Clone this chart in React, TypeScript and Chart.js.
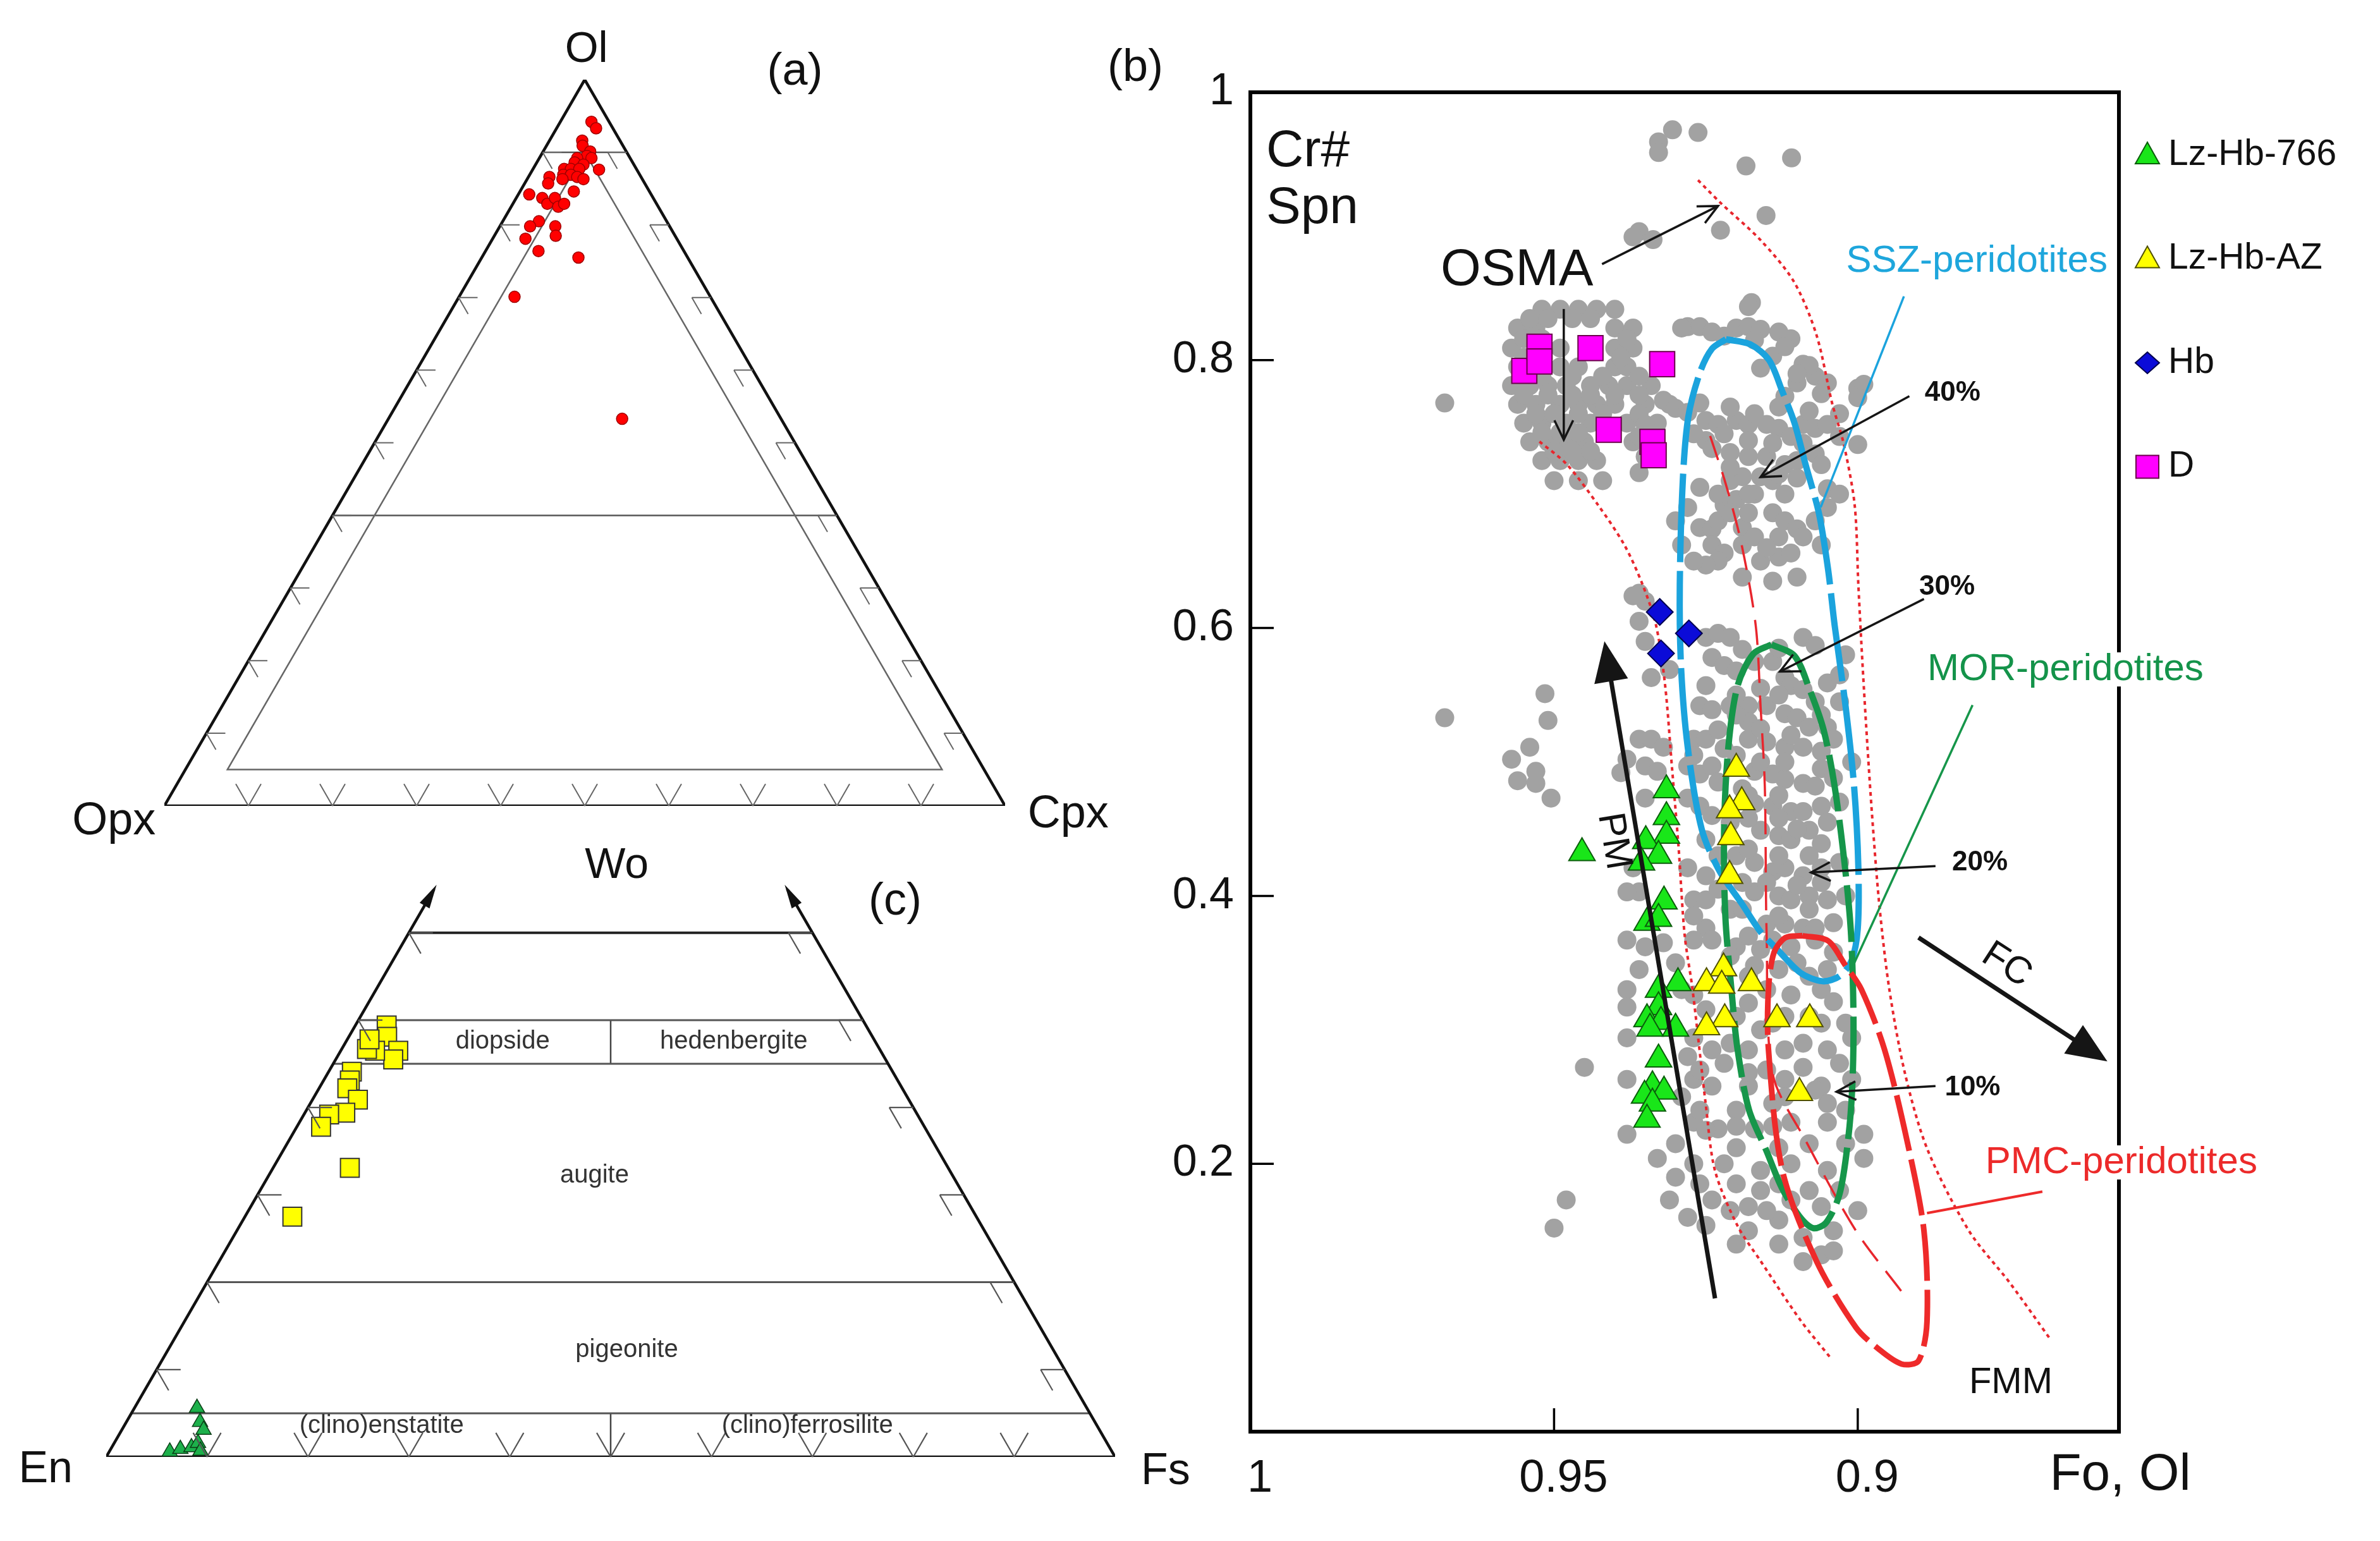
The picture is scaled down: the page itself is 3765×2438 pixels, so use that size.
import React, { useEffect, useRef } from 'react';
import { Chart, registerables } from 'chart.js';

Chart.register(...registerables);

const FONT = '"Liberation Sans", Arial, Helvetica, sans-serif';
const H = Math.sqrt(3) / 2;

// ================= Panel (a): Ol – Opx – Cpx (vol %) =================
const A_OUTLINE = [[100, 0, 0], [0, 100, 0], [0, 0, 100], [100, 0, 0]];
const A_INNER = [[90, 5, 5], [5, 90, 5], [5, 5, 90], [90, 5, 5]];
const A_OL90 = [[90, 10, 0], [90, 0, 10]];
const A_OL40 = [[40, 60, 0], [40, 0, 60]];
const A_TICKS = [10, 20, 30, 40, 50, 60, 70, 80, 90];
// [Ol, Opx, Cpx]
const A_SAMPLES = [
  [94.2, 2.1, 3.7], [93.3, 2.0, 4.7], [91.6, 4.5, 3.9], [90.9, 4.8, 4.3], [90.1, 4.3, 5.6],
  [89.5, 5.0, 5.5], [89.2, 6.3, 4.5], [89.2, 4.6, 6.2], [88.6, 6.9, 4.5], [88.3, 6.0, 5.7],
  [87.7, 8.6, 3.7], [87.7, 7.8, 4.5], [87.7, 6.8, 5.5], [86.9, 9.1, 4.0], [86.9, 8.2, 4.9],
  [86.6, 7.6, 5.8], [86.3, 7.0, 6.7], [87.6, 4.5, 7.9], [86.3, 9.5, 4.2], [86.6, 10.9, 2.5],
  [85.7, 11.5, 2.8], [84.6, 9.0, 6.4], [84.2, 14.5, 1.3], [83.7, 13.2, 3.1], [82.9, 13.0, 4.1],
  [83.7, 11.7, 4.6], [82.5, 11.9, 5.6], [82.9, 11.0, 6.1], [80.5, 15.2, 4.3], [79.8, 16.6, 3.6],
  [79.8, 13.6, 6.6], [78.5, 14.2, 7.3], [78.1, 18.0, 3.9], [76.4, 17.3, 6.3], [75.5, 13.0, 11.5],
  [70.1, 23.3, 6.6], [53.3, 18.9, 27.8],
];
const A_LABELS = [
  { text: 'Ol', at: [0.502, 0.901], size: 68 },
  { text: '(a)', at: [0.75, 0.875], size: 72 },
  { text: 'Opx', at: [-0.06, -0.019], size: 72 },
  { text: 'Cpx', at: [1.075, -0.011], size: 72 },
];

// ================= Panel (c): En – Fs – Wo (mol %) =================
const C_SIDES = [
  [[100, 0, 0], [35, 0, 65]],
  [[0, 100, 0], [0, 35, 65]],
  [[100, 0, 0], [0, 100, 0]],
];
const C_WO_BORDER = 60;
const C_WO_LINES = [50, 45, 20, 5];
const C_DIVIDERS = [
  [[27.5, 27.5, 45], [25, 25, 50]],
  [[47.5, 47.5, 5], [50, 50, 0]],
];
const C_SIDE_TICKS = [10, 20, 30, 40, 50, 60];
const C_BASE_TICKS = [10, 20, 30, 40, 50, 60, 70, 80, 90];
// [En, Fs, Wo]
const C_CPX = [
  [47.5, 3.1, 49.4], [48.1, 3.8, 48.1], [47.8, 5.7, 46.5], [48.8, 5.7, 45.5], [50.1, 3.4, 46.5],
  [50.8, 2.5, 46.7], [50.0, 2.2, 47.8], [53.6, 2.3, 44.1], [54.3, 2.6, 43.1], [55.0, 2.8, 42.2],
  [54.6, 4.5, 40.9], [56.6, 4.0, 39.4], [58.3, 2.5, 39.2], [59.8, 2.4, 37.8], [59.3, 7.6, 33.1],
  [67.8, 4.7, 27.5],
];
const C_OPX = [
  [88.2, 6.2, 5.6], [88.7, 7.3, 4.0], [88.8, 8.1, 3.1], [93.4, 6.0, 0.6], [92.2, 6.9, 0.9],
  [91.0, 7.9, 1.1], [90.1, 8.3, 1.6], [90.3, 9.0, 0.7],
];
const C_LABELS = [
  { text: 'Wo', at: [0.506, 0.586], size: 68, color: '#111' },
  { text: '(c)', at: [0.782, 0.55], size: 72, color: '#111' },
  { text: 'En', at: [-0.06, -0.013], size: 70, color: '#111' },
  { text: 'Fs', at: [1.05, -0.015], size: 70, color: '#111' },
  { text: 'diopside', at: [0.393, 0.412], size: 40, color: '#333' },
  { text: 'hedenbergite', at: [0.622, 0.412], size: 40, color: '#333' },
  { text: 'augite', at: [0.484, 0.279], size: 40, color: '#333' },
  { text: 'pigeonite', at: [0.516, 0.106], size: 40, color: '#333' },
  { text: '(clino)enstatite', at: [0.273, 0.031], size: 40, color: '#333' },
  { text: '(clino)ferrosilite', at: [0.695, 0.031], size: 40, color: '#333' },
];

// ================= Panel (b): Cr# spinel vs Fo olivine =================
const B_X_TICKS = [0.9, 0.95, 1];
const B_Y_TICKS = [0.2, 0.4, 0.6, 0.8, 1];

const LZ_HB_766 = [
  [0.9315, 0.479], [0.9315, 0.459], [0.9315, 0.445], [0.9349, 0.441], [0.9328, 0.43], [0.9356, 0.425],
  [0.9454, 0.432], [0.9319, 0.396], [0.9347, 0.38], [0.9328, 0.383], [0.9296, 0.335], [0.9328, 0.33],
  [0.9328, 0.317], [0.9347, 0.308], [0.9324, 0.306], [0.93, 0.301], [0.9342, 0.301], [0.9328, 0.278],
  [0.9338, 0.258], [0.9319, 0.254], [0.9351, 0.251], [0.9338, 0.245], [0.9347, 0.233],
];
const LZ_HB_AZ = [
  [0.92, 0.495], [0.9191, 0.47], [0.9211, 0.464], [0.9209, 0.444], [0.9211, 0.415], [0.9221, 0.346],
  [0.9249, 0.335], [0.9224, 0.333], [0.9175, 0.335], [0.9219, 0.308], [0.9249, 0.302], [0.9133, 0.308],
  [0.9079, 0.308], [0.9096, 0.253],
];
const HB = [[0.9326, 0.612], [0.9278, 0.596], [0.9324, 0.581]];
const D = [
  [0.9549, 0.792], [0.9524, 0.81], [0.9524, 0.799], [0.944, 0.809], [0.9322, 0.797],
  [0.941, 0.748], [0.9338, 0.739], [0.9336, 0.729],
];

const PERIDOTITES = [
  // sparse, high Cr#
  [0.9328, 0.963], [0.9305, 0.972], [0.9263, 0.97], [0.9328, 0.955], [0.9184, 0.945], [0.9109, 0.951],
  [0.9151, 0.908], [0.9226, 0.897], [0.936, 0.896], [0.9337, 0.89], [0.937, 0.892],
  // OSMA high-Fo cluster
  [0.952, 0.838], [0.949, 0.838], [0.946, 0.838], [0.943, 0.838], [0.94, 0.838],
  [0.956, 0.824], [0.953, 0.824], [0.94, 0.824], [0.937, 0.824],
  [0.957, 0.809], [0.949, 0.809], [0.94, 0.809], [0.937, 0.809],
  [0.956, 0.795], [0.949, 0.795], [0.946, 0.795], [0.94, 0.795], [0.938, 0.795],
  [0.957, 0.781], [0.954, 0.781], [0.951, 0.781], [0.948, 0.781], [0.944, 0.781], [0.941, 0.781], [0.938, 0.781], [0.934, 0.781],
  [0.956, 0.767], [0.953, 0.767], [0.949, 0.767], [0.946, 0.767], [0.943, 0.767], [0.94, 0.767], [0.935, 0.767], [0.931, 0.767],
  [0.955, 0.753], [0.952, 0.753], [0.948, 0.753], [0.944, 0.753], [0.938, 0.753], [0.933, 0.753],
  [0.954, 0.739], [0.951, 0.739], [0.948, 0.739], [0.945, 0.739], [0.937, 0.739],
  [0.952, 0.725], [0.949, 0.725], [0.946, 0.725], [0.943, 0.725],
  [0.95, 0.71], [0.946, 0.71], [0.942, 0.71],
  [0.968, 0.768], [0.9175, 0.843],
  [0.954, 0.831], [0.951, 0.831], [0.947, 0.831], [0.944, 0.831], [0.955, 0.816], [0.952, 0.816], [0.938, 0.816],
  [0.955, 0.802], [0.939, 0.802], [0.955, 0.788], [0.952, 0.788], [0.947, 0.788], [0.942, 0.788], [0.936, 0.788],
  [0.955, 0.774], [0.951, 0.774], [0.947, 0.774], [0.944, 0.774], [0.94, 0.774], [0.936, 0.774], [0.953, 0.76],
  [0.95, 0.76], [0.946, 0.76], [0.942, 0.76], [0.936, 0.76], [0.952, 0.746], [0.949, 0.746], [0.946, 0.746],
  [0.941, 0.746], [0.95, 0.732], [0.947, 0.732], [0.944, 0.732],
  // upper cluster inside SSZ field
  [0.918, 0.84], [0.928, 0.825], [0.926, 0.825], [0.924, 0.821], [0.92, 0.824], [0.918, 0.825], [0.916, 0.823],
  [0.913, 0.821], [0.911, 0.816], [0.909, 0.797], [0.907, 0.788], [0.905, 0.783], [0.9, 0.779], [0.914, 0.803],
  [0.916, 0.794], [0.91, 0.783], [0.912, 0.773], [0.932, 0.77], [0.93, 0.764], [0.928, 0.761], [0.925, 0.755],
  [0.923, 0.752], [0.92, 0.755], [0.918, 0.752], [0.915, 0.752], [0.913, 0.749], [0.911, 0.743], [0.909, 0.752],
  [0.907, 0.749], [0.905, 0.752], [0.903, 0.743], [0.9, 0.737], [0.935, 0.752], [0.936, 0.743], [0.935, 0.728],
  [0.936, 0.716], [0.925, 0.74], [0.924, 0.734], [0.921, 0.731], [0.918, 0.728], [0.915, 0.728], [0.912, 0.722],
  [0.914, 0.71], [0.916, 0.713], [0.919, 0.713], [0.921, 0.71], [0.905, 0.704], [0.922, 0.692], [0.92, 0.696],
  [0.899, 0.782], [0.9, 0.772], [0.908, 0.796], [0.929, 0.824],
  [0.917, 0.7], [0.913, 0.715], [0.91, 0.725], [0.907, 0.73], [0.921, 0.72], [0.926, 0.705], [0.928, 0.69],
  [0.905, 0.69], [0.907, 0.68], [0.903, 0.7],
  [0.922, 0.818], [0.917, 0.815], [0.912, 0.81], [0.91, 0.79], [0.906, 0.775], [0.903, 0.76], [0.908, 0.762],
  [0.913, 0.765], [0.917, 0.76], [0.921, 0.765], [0.926, 0.768], [0.927, 0.745], [0.922, 0.745], [0.918, 0.74],
  [0.914, 0.738], [0.909, 0.738], [0.906, 0.722], [0.91, 0.712], [0.918, 0.7], [0.912, 0.7], [0.923, 0.7],
  [0.919, 0.675], [0.926, 0.675], [0.913, 0.668], [0.906, 0.662],
  // middle
  [0.924, 0.674], [0.923, 0.68], [0.921, 0.686], [0.918, 0.686], [0.914, 0.686], [0.912, 0.68], [0.91, 0.674],
  [0.909, 0.668], [0.924, 0.662], [0.922, 0.656], [0.919, 0.662], [0.916, 0.65], [0.913, 0.653], [0.911, 0.656],
  [0.91, 0.638], [0.914, 0.635], [0.919, 0.638], [0.923, 0.65], [0.925, 0.647], [0.93, 0.68], [0.929, 0.662],
  [0.936, 0.626], [0.935, 0.62], [0.917, 0.668], [0.915, 0.66], [0.927, 0.65],
  // near Hb
  [0.936, 0.605], [0.935, 0.59], [0.934, 0.563], [0.931, 0.569], [0.937, 0.624],
  // dense central band
  [0.925, 0.593], [0.923, 0.596], [0.921, 0.593], [0.919, 0.584], [0.909, 0.593], [0.907, 0.587], [0.924, 0.578],
  [0.922, 0.572], [0.92, 0.568], [0.912, 0.563], [0.911, 0.557], [0.909, 0.554], [0.907, 0.545], [0.905, 0.559],
  [0.925, 0.557], [0.926, 0.542], [0.924, 0.539], [0.921, 0.542], [0.918, 0.542], [0.915, 0.542], [0.912, 0.536],
  [0.91, 0.533], [0.908, 0.526], [0.905, 0.526], [0.936, 0.517], [0.934, 0.517], [0.932, 0.511], [0.927, 0.517],
  [0.925, 0.517], [0.923, 0.524], [0.918, 0.517], [0.915, 0.515], [0.912, 0.511], [0.909, 0.511], [0.906, 0.508],
  [0.904, 0.517], [0.935, 0.497], [0.933, 0.493], [0.928, 0.497], [0.926, 0.491], [0.924, 0.497], [0.917, 0.493],
  [0.914, 0.491], [0.912, 0.487], [0.909, 0.484], [0.907, 0.482], [0.935, 0.473], [0.928, 0.473], [0.926, 0.467],
  [0.917, 0.469], [0.914, 0.467], [0.911, 0.463], [0.909, 0.463], [0.906, 0.467], [0.925, 0.442], [0.916, 0.449],
  [0.913, 0.445], [0.911, 0.442], [0.908, 0.449], [0.906, 0.439], [0.937, 0.421], [0.936, 0.403], [0.928, 0.421],
  [0.925, 0.415], [0.917, 0.425], [0.914, 0.418], [0.912, 0.421], [0.909, 0.415], [0.906, 0.421], [0.927, 0.397],
  [0.925, 0.397], [0.917, 0.403], [0.913, 0.4], [0.911, 0.397], [0.908, 0.4], [0.905, 0.397], [0.925, 0.376],
  [0.915, 0.379], [0.912, 0.379], [0.909, 0.376], [0.907, 0.376],
  [0.92, 0.505], [0.918, 0.53], [0.916, 0.555], [0.914, 0.575], [0.902, 0.58], [0.903, 0.545], [0.901, 0.5],
  [0.903, 0.47], [0.919, 0.48], [0.921, 0.455], [0.918, 0.458], [0.91, 0.45], [0.905, 0.455], [0.913, 0.43],
  [0.908, 0.43], [0.903, 0.425], [0.902, 0.4], [0.92, 0.43], [0.919, 0.41], [0.921, 0.39],
  [0.917, 0.575], [0.913, 0.585], [0.903, 0.565], [0.92, 0.55], [0.913, 0.55], [0.906, 0.535], [0.92, 0.535],
  [0.916, 0.525], [0.911, 0.52], [0.922, 0.51], [0.916, 0.5], [0.912, 0.5], [0.906, 0.495], [0.927, 0.505],
  [0.923, 0.485], [0.918, 0.475], [0.913, 0.475], [0.904, 0.488], [0.924, 0.46], [0.913, 0.458], [0.923, 0.43],
  [0.918, 0.435], [0.906, 0.41], [0.91, 0.408], [0.915, 0.41], [0.923, 0.405], [0.919, 0.39], [0.913, 0.385],
  [0.908, 0.39], [0.904, 0.38], [0.927, 0.385],
  // lower band
  [0.938, 0.367], [0.935, 0.362], [0.927, 0.367], [0.924, 0.367], [0.92, 0.362], [0.914, 0.367], [0.911, 0.362],
  [0.907, 0.367], [0.904, 0.358], [0.938, 0.33], [0.927, 0.326], [0.915, 0.33], [0.911, 0.326], [0.906, 0.33],
  [0.904, 0.321], [0.938, 0.317], [0.938, 0.294], [0.927, 0.294], [0.924, 0.285], [0.918, 0.285], [0.912, 0.285],
  [0.905, 0.285], [0.901, 0.294], [0.938, 0.263], [0.927, 0.263], [0.924, 0.258], [0.918, 0.258], [0.912, 0.263],
  [0.906, 0.258], [0.901, 0.263], [0.938, 0.222], [0.927, 0.231], [0.923, 0.226], [0.917, 0.226], [0.911, 0.231],
  [0.905, 0.231], [0.899, 0.222], [0.933, 0.204], [0.927, 0.2], [0.922, 0.2], [0.916, 0.195], [0.911, 0.2],
  [0.905, 0.195], [0.899, 0.204], [0.931, 0.173], [0.924, 0.173], [0.918, 0.168], [0.911, 0.173], [0.906, 0.168],
  [0.925, 0.154], [0.918, 0.15], [0.909, 0.145], [0.904, 0.15], [0.909, 0.127], [0.906, 0.132],
  [0.916, 0.36], [0.913, 0.345], [0.91, 0.35], [0.918, 0.34], [0.908, 0.31], [0.914, 0.305], [0.916, 0.3],
  [0.92, 0.31], [0.922, 0.275], [0.915, 0.27], [0.909, 0.272], [0.905, 0.245], [0.914, 0.245], [0.92, 0.24],
  [0.926, 0.24], [0.93, 0.215], [0.92, 0.212], [0.913, 0.212], [0.908, 0.215], [0.902, 0.24], [0.93, 0.19],
  [0.92, 0.185], [0.913, 0.185], [0.908, 0.18], [0.921, 0.165], [0.913, 0.158], [0.929, 0.33], [0.93, 0.35],
  [0.932, 0.365], [0.936, 0.345],
  [0.918, 0.37], [0.921, 0.355], [0.917, 0.348], [0.905, 0.345], [0.908, 0.34], [0.925, 0.315], [0.918, 0.32],
  [0.912, 0.31], [0.906, 0.305], [0.902, 0.305], [0.928, 0.28], [0.921, 0.29], [0.909, 0.29], [0.903, 0.275],
  [0.926, 0.27], [0.918, 0.268], [0.912, 0.25], [0.907, 0.255], [0.929, 0.25], [0.925, 0.225], [0.92, 0.228],
  [0.914, 0.228], [0.902, 0.215], [0.926, 0.185], [0.916, 0.18], [0.903, 0.18], [0.915, 0.165], [0.9, 0.165],
  [0.928, 0.16], [0.904, 0.135], [0.913, 0.14], [0.92, 0.14],
  // low-Fo / high-Fo outliers
  [0.968, 0.533], [0.9515, 0.551], [0.951, 0.531], [0.957, 0.502], [0.954, 0.511], [0.953, 0.493], [0.956, 0.486],
  [0.953, 0.484], [0.9505, 0.473], [0.945, 0.272], [0.948, 0.173], [0.95, 0.152], [0.938, 0.502], [0.939, 0.492],
  [0.938, 0.403],
];

// OSMA envelope and fertile-mantle melting trend
const OSMA_LOWER = [
  [0.9524, 0.7392], [0.9479, 0.7222], [0.9427, 0.6915], [0.9384, 0.6618], [0.9354, 0.6321], [0.9332, 0.6019],
  [0.9317, 0.5566], [0.9306, 0.4967], [0.9295, 0.4363], [0.9285, 0.3708], [0.9272, 0.3302], [0.925, 0.2434],
  [0.9235, 0.1948], [0.9198, 0.1538], [0.916, 0.1274], [0.9094, 0.083], [0.9045, 0.0552],
];
const OSMA_UPPER = [
  [0.9263, 0.9344], [0.9226, 0.9175], [0.916, 0.8896], [0.9105, 0.8585], [0.9068, 0.8189], [0.9042, 0.7675],
  [0.9023, 0.7373], [0.9005, 0.6915], [0.8999, 0.6321], [0.8992, 0.5717], [0.8984, 0.5113], [0.8975, 0.4514],
  [0.8964, 0.391], [0.8948, 0.3302], [0.8922, 0.267], [0.8885, 0.2104], [0.8817, 0.15], [0.875, 0.1113],
  [0.8682, 0.0684],
];
const MELT_TREND = [
  [0.9243, 0.7434], [0.9217, 0.7071], [0.9191, 0.6618], [0.9168, 0.6019], [0.916, 0.5415], [0.9153, 0.4816],
  [0.915, 0.3708], [0.914, 0.267], [0.9086, 0.2175], [0.9003, 0.15], [0.8928, 0.1047],
];
const SSZ_FIELD = [
  [0.9217, 0.8156], [0.9177, 0.8118], [0.9146, 0.8], [0.9124, 0.7764], [0.9104, 0.7528], [0.9086, 0.7222],
  [0.9064, 0.6858], [0.9049, 0.6443], [0.9038, 0.6019], [0.902, 0.5415], [0.9006, 0.4816], [0.8999, 0.4212],
  [0.9, 0.3755], [0.901, 0.3519], [0.903, 0.3401], [0.9058, 0.3363], [0.9094, 0.3425], [0.9135, 0.3613],
  [0.916, 0.3731], [0.9191, 0.3943], [0.9228, 0.4189], [0.9257, 0.45], [0.928, 0.5113], [0.9291, 0.5717],
  [0.9293, 0.6321], [0.9288, 0.7104], [0.9279, 0.7575], [0.926, 0.7906], [0.924, 0.8085], [0.9217, 0.8156],
];
const MOR_FIELD = [
  [0.9142, 0.5877], [0.9104, 0.5792], [0.9079, 0.5538], [0.9056, 0.5236], [0.9038, 0.4816], [0.9021, 0.4212],
  [0.9011, 0.3708], [0.9007, 0.308], [0.9009, 0.2575], [0.9016, 0.2175], [0.903, 0.1774], [0.9052, 0.1561],
  [0.9073, 0.1519], [0.9096, 0.1608], [0.9125, 0.1821], [0.9151, 0.2104], [0.9179, 0.2401], [0.9198, 0.2858],
  [0.9208, 0.3302], [0.9218, 0.3849], [0.922, 0.4514], [0.9213, 0.5113], [0.9198, 0.5566], [0.9172, 0.5807],
  [0.9142, 0.5877],
];
const PMC_FIELD = [
  [0.9091, 0.3703], [0.9049, 0.3665], [0.9021, 0.3486], [0.8994, 0.3302], [0.8956, 0.2854], [0.8919, 0.2175],
  [0.8891, 0.15], [0.8886, 0.0821], [0.89, 0.0528], [0.8928, 0.0505], [0.8966, 0.0618], [0.9003, 0.0778],
  [0.9068, 0.1274], [0.9124, 0.1948], [0.9147, 0.2854], [0.9147, 0.3302], [0.9138, 0.3575], [0.9119, 0.3689],
  [0.9091, 0.3703],
];
const SSZ_LEADER = [[0.8924, 0.8476], [0.9061, 0.6901]];
const MOR_LEADER = [[0.8811, 0.5425], [0.9007, 0.3486]];
const PMC_LEADER = [[0.8696, 0.1792], [0.8886, 0.1632]];

const B_ARROWS = [
  { from: [0.9421, 0.8717], to: [0.923, 0.9151], kind: 'thin' },
  { from: [0.9484, 0.8382], to: [0.9484, 0.7406], kind: 'thin' },
  { from: [0.8915, 0.7731], to: [0.916, 0.7127], kind: 'thin' },
  { from: [0.8891, 0.6217], to: [0.9128, 0.5675], kind: 'thin' },
  { from: [0.8872, 0.4222], to: [0.9077, 0.4175], kind: 'thin' },
  { from: [0.8872, 0.258], to: [0.9035, 0.2538], kind: 'thin' },
  { from: [0.9235, 0.0995], to: [0.9417, 0.5901], kind: 'bold' },
  { from: [0.89, 0.3689], to: [0.8589, 0.2764], kind: 'bold' },
];

const B_LABELS = [
  { text: 'Cr#', at: [0.9974, 0.9448], size: 82, align: 'left', baseline: 'alphabetic' },
  { text: 'Spn', at: [0.9974, 0.9023], size: 82, align: 'left', baseline: 'alphabetic' },
  { text: 'OSMA', at: [0.9561, 0.8665], size: 82 },
  { text: 'SSZ-peridotites', at: [0.8804, 0.874], size: 60, color: '#1ea6dc' },
  { text: 'MOR-peridotites', at: [0.8658, 0.5691], size: 60, color: '#14934a', bg: true },
  { text: 'PMC-peridotites', at: [0.8566, 0.201], size: 60, color: '#ec2a2a', bg: true },
  { text: '40%', at: [0.8844, 0.7754], size: 44, weight: 'bold' },
  { text: '30%', at: [0.8853, 0.6305], size: 44, weight: 'bold' },
  { text: '20%', at: [0.8799, 0.4247], size: 44, weight: 'bold' },
  { text: '10%', at: [0.8811, 0.2567], size: 44, weight: 'bold' },
  { text: 'FMM', at: [0.8748, 0.0363], size: 58 },
  { text: 'PM', at: [0.9402, 0.4408], size: 60, rot: 80.5 },
  { text: 'FC', at: [0.8755, 0.3483], size: 60, rot: 33 },
  { text: 'Fo, Ol', at: [0.8684, -0.0434], size: 82, align: 'left', baseline: 'alphabetic' },
];

const B_LEGEND = [
  { label: 'Lz-Hb-766', shape: 'triangle', fill: '#19e619', stroke: '#0b5d0b' },
  { label: 'Lz-Hb-AZ', shape: 'triangle', fill: '#ffff00', stroke: '#505000' },
  { label: 'Hb', shape: 'diamond', fill: '#0b0bd8', stroke: '#00004d' },
  { label: 'D', shape: 'square', fill: '#ff00ff', stroke: '#6a004a' },
];

// ---------------- helpers ----------------
function olOpxCpx(p: number[]) {
  const [ol, opx, cpx] = p;
  const s = ol + opx + cpx;
  return { x: (cpx + ol / 2) / s, y: (ol / s) * H };
}
function enFsWo(p: number[]) {
  const [en, fs, wo] = p;
  const s = en + fs + wo;
  return { x: (fs + wo / 2) / s, y: (wo / s) * H };
}
const xy = (p: number[]) => ({ x: p[0], y: p[1] });

function lineDs(points: any[], color: string, width: number, extra: any = {}) {
  return {
    type: 'scatter', data: points, showLine: true, borderColor: color, backgroundColor: color,
    borderWidth: width, pointRadius: 0, pointHoverRadius: 0, fill: false, tension: 0, order: 10, ...extra,
  };
}
function pointDs(points: any[], style: string, radius: number, fill: string, stroke: string, bw: number, order: number) {
  return {
    type: 'scatter', data: points, showLine: false, pointStyle: style, pointRadius: radius,
    pointHoverRadius: radius, pointBackgroundColor: fill, pointBorderColor: stroke, pointBorderWidth: bw, order,
  };
}
function seg(ctx: CanvasRenderingContext2D, x0: number, y0: number, x1: number, y1: number) {
  ctx.beginPath(); ctx.moveTo(x0, y0); ctx.lineTo(x1, y1); ctx.stroke();
}
function chevron(ctx: CanvasRenderingContext2D, vx: number, vy: number, arms: number[][]) {
  ctx.beginPath();
  for (const [dx, dy] of arms) { ctx.moveTo(vx, vy); ctx.lineTo(vx + dx, vy + dy); }
  ctx.stroke();
}
function text(ctx: CanvasRenderingContext2D, s: string, x: number, y: number, o: any) {
  ctx.save();
  ctx.translate(x, y);
  if (o.rot) ctx.rotate((o.rot * Math.PI) / 180);
  ctx.font = `${o.weight || 'normal'} ${o.size}px ${FONT}`;
  ctx.textAlign = o.align || 'center';
  ctx.textBaseline = o.baseline || 'middle';
  if (o.bg) {
    const w = ctx.measureText(s).width;
    ctx.fillStyle = '#fff';
    ctx.fillRect(-w / 2 - 6, -o.size * 0.45, w + 12, o.size * 0.9);
  }
  ctx.fillStyle = o.color || '#111';
  ctx.fillText(s, 0, 0);
  ctx.restore();
}

const baseOptions = {
  responsive: false, animation: false, devicePixelRatio: 1, events: [],
  plugins: { legend: { display: false }, tooltip: { enabled: false } },
};

// ---------------- panel (a) ----------------
const panelADecor = {
  id: 'panelADecor',
  afterDatasetsDraw(chart: any) {
    const { ctx, scales: { x, y } } = chart;
    const P = (p: number[]) => { const q = olOpxCpx(p); return [x.getPixelForValue(q.x), y.getPixelForValue(q.y)]; };
    ctx.save();
    ctx.strokeStyle = '#666';
    ctx.lineWidth = 2;
    const L = 30, Lb = 40;
    for (const t of A_TICKS) {
      const [lx, ly] = P([t, 100 - t, 0]);
      chevron(ctx, lx, ly, [[L, 0], [L * 0.5, L * H]]);
      const [rx, ry] = P([t, 0, 100 - t]);
      chevron(ctx, rx - L, ry, [[L, 0], [L * 0.5, L * H]]);
      const [bx, by] = P([0, 100 - t, t]);
      chevron(ctx, bx, by, [[-Lb * 0.5, -Lb * H], [Lb * 0.5, -Lb * H]]);
    }
    for (const lb of A_LABELS) {
      text(ctx, lb.text, x.getPixelForValue(lb.at[0]), y.getPixelForValue(lb.at[1]), { size: lb.size });
    }
    ctx.restore();
  },
};

function buildA() {
  return {
    type: 'scatter',
    data: {
      datasets: [
        pointDs(A_SAMPLES.map(olOpxCpx), 'circle', 9, '#ff0000', '#a00000', 1.5, 1),
        lineDs(A_OUTLINE.map(olOpxCpx), '#111', 4.5),
        lineDs(A_INNER.map(olOpxCpx), '#666', 2.5),
        lineDs(A_OL90.map(olOpxCpx), '#555', 2.5),
        lineDs(A_OL40.map(olOpxCpx), '#555', 2.5),
      ],
    },
    options: {
      ...baseOptions,
      layout: { padding: { left: 260, right: 210, top: 126, bottom: 75 } },
      scales: {
        x: { type: 'linear', min: 0, max: 1, display: false },
        y: { type: 'linear', min: 0, max: H, display: false },
      },
    },
    plugins: [panelADecor],
  };
}

// ---------------- panel (c) ----------------
const panelCDecor = {
  id: 'panelCDecor',
  afterDatasetsDraw(chart: any) {
    const { ctx, scales: { x, y } } = chart;
    const P = (p: number[]) => { const q = enFsWo(p); return [x.getPixelForValue(q.x), y.getPixelForValue(q.y)]; };
    ctx.save();
    ctx.strokeStyle = '#555';
    ctx.lineWidth = 2.2;
    const L = 38, Lb = 44;
    for (const t of C_SIDE_TICKS) {
      const [lx, ly] = P([100 - t, 0, t]);
      chevron(ctx, lx, ly, [[L, 0], [L * 0.5, L * H]]);
      const [rx, ry] = P([0, 100 - t, t]);
      chevron(ctx, rx - L, ry, [[L, 0], [L * 0.5, L * H]]);
    }
    for (const t of C_BASE_TICKS) {
      const [bx, by] = P([100 - t, t, 0]);
      chevron(ctx, bx, by, [[-Lb * 0.5, -Lb * H], [Lb * 0.5, -Lb * H]]);
    }
    ctx.fillStyle = '#111';
    for (const [a, b] of [C_SIDES[0], C_SIDES[1]]) {
      const [x0, y0] = P(a); const [x1, y1] = P(b);
      const ang = Math.atan2(y1 - y0, x1 - x0);
      const len = 30, half = 9;
      ctx.beginPath();
      ctx.moveTo(x1 + 8 * Math.cos(ang), y1 + 8 * Math.sin(ang));
      ctx.lineTo(x1 - len * Math.cos(ang) + half * Math.sin(ang), y1 - len * Math.sin(ang) - half * Math.cos(ang));
      ctx.lineTo(x1 - len * Math.cos(ang) - half * Math.sin(ang), y1 - len * Math.sin(ang) + half * Math.cos(ang));
      ctx.closePath();
      ctx.fill();
    }
    for (const lb of C_LABELS) {
      text(ctx, lb.text, x.getPixelForValue(lb.at[0]), y.getPixelForValue(lb.at[1]), { size: lb.size, color: lb.color });
    }
    ctx.restore();
  },
};

function buildC() {
  const woLine = (w: number) => [[100 - w, 0, w], [0, 100 - w, w]].map(enFsWo);
  return {
    type: 'scatter',
    data: {
      datasets: [
        pointDs(C_OPX.map(enFsWo), 'triangle', 14, '#1db04b', '#0b3d16', 1.5, 1),
        pointDs(C_CPX.map(enFsWo), 'rect', 21, '#ffff00', '#333', 2, 1),
        ...C_SIDES.map((s) => lineDs(s.map(enFsWo), '#111', 4.5, { order: 8 })),
        lineDs(woLine(C_WO_BORDER), '#222', 4, { order: 9 }),
        ...C_WO_LINES.map((w) => lineDs(woLine(w), '#555', 3)),
        ...C_DIVIDERS.map((s) => lineDs(s.map(enFsWo), '#444', 2.5)),
      ],
    },
    options: {
      ...baseOptions,
      layout: { padding: { left: 168, right: 136, top: 107, bottom: 133 } },
      scales: {
        x: { type: 'linear', min: 0, max: 1, display: false },
        y: { type: 'linear', min: 0, max: 0.5627, display: false },
      },
    },
    plugins: [panelCDecor],
  };
}

// ---------------- panel (b) ----------------
function drawArrow(ctx: CanvasRenderingContext2D, x0: number, y0: number, x1: number, y1: number, kind: string) {
  const ang = Math.atan2(y1 - y0, x1 - x0);
  const c = Math.cos(ang), s = Math.sin(ang);
  ctx.strokeStyle = '#151515';
  ctx.fillStyle = '#151515';
  if (kind === 'bold') {
    const head = 64, half = 27;
    const bx = x1 - head * c, by = y1 - head * s;
    ctx.lineWidth = 7;
    seg(ctx, x0, y0, bx + 4 * c, by + 4 * s);
    ctx.beginPath();
    ctx.moveTo(x1, y1);
    ctx.lineTo(bx + half * s, by - half * c);
    ctx.lineTo(bx - half * s, by + half * c);
    ctx.closePath();
    ctx.fill();
  } else {
    ctx.lineWidth = 3.5;
    seg(ctx, x0, y0, x1, y1);
    const hl = 34, a = 0.45;
    ctx.beginPath();
    ctx.moveTo(x1 - hl * Math.cos(ang - a), y1 - hl * Math.sin(ang - a));
    ctx.lineTo(x1, y1);
    ctx.lineTo(x1 - hl * Math.cos(ang + a), y1 - hl * Math.sin(ang + a));
    ctx.stroke();
  }
}

const panelBDecor = {
  id: 'panelBDecor',
  afterDatasetsDraw(chart: any) {
    const { ctx, chartArea: a, scales: { x, y } } = chart;
    const px = (p: number[]) => [x.getPixelForValue(p[0]), y.getPixelForValue(p[1])];
    ctx.save();
    ctx.strokeStyle = '#000';
    ctx.lineWidth = 6;
    ctx.strokeRect(a.left, a.top, a.right - a.left, a.bottom - a.top);
    ctx.lineWidth = 3.5;
    for (const v of B_Y_TICKS) if (v < 1) { const py = y.getPixelForValue(v); seg(ctx, a.left, py, a.left + 37, py); }
    for (const v of B_X_TICKS) if (v < 1) { const qx = x.getPixelForValue(v); seg(ctx, qx, a.bottom, qx, a.bottom - 37); }
    for (const ar of B_ARROWS) {
      const [x0, y0] = px(ar.from); const [x1, y1] = px(ar.to);
      drawArrow(ctx, x0, y0, x1, y1, ar.kind);
    }
    for (const lb of B_LABELS) {
      const [tx, ty] = px(lb.at);
      text(ctx, lb.text, tx, ty, lb);
    }
    text(ctx, '(b)', a.left - 182, a.top - 38, { size: 72 });
    B_LEGEND.forEach((it, i) => {
      const mx = a.right + 45, my = a.top + 99 + i * 164.5;
      ctx.fillStyle = it.fill; ctx.strokeStyle = it.stroke; ctx.lineWidth = 2;
      ctx.beginPath();
      if (it.shape === 'triangle') {
        ctx.moveTo(mx, my - 20); ctx.lineTo(mx + 19, my + 14); ctx.lineTo(mx - 19, my + 14);
      } else if (it.shape === 'diamond') {
        ctx.moveTo(mx, my - 17); ctx.lineTo(mx + 19, my); ctx.lineTo(mx, my + 17); ctx.lineTo(mx - 19, my);
      } else {
        ctx.rect(mx - 18, my - 18, 36, 36);
      }
      ctx.closePath(); ctx.fill(); ctx.stroke();
      text(ctx, it.label, a.right + 78, my, { size: 57, align: 'left' });
    });
    ctx.restore();
  },
};

function buildB() {
  return {
    type: 'scatter',
    data: {
      datasets: [
        pointDs(PERIDOTITES.map(xy), 'circle', 15, '#a2a2a2', '#a2a2a2', 0, 30),
        lineDs(OSMA_LOWER.map(xy), '#e8262d', 4, { borderDash: [6, 6], tension: 0.3, order: 20 }),
        lineDs(OSMA_UPPER.map(xy), '#e8262d', 4, { borderDash: [6, 6], tension: 0.3, order: 20 }),
        lineDs(MELT_TREND.map(xy), '#e8262d', 3.5, { borderDash: [40, 20], tension: 0.3, order: 20 }),
        lineDs(SSZ_FIELD.map(xy), '#1ba3dd', 10, { borderDash: [140, 14], tension: 0.3, order: 15 }),
        lineDs(MOR_FIELD.map(xy), '#16964a', 10, { borderDash: [90, 14], tension: 0.3, order: 14 }),
        lineDs(PMC_FIELD.map(xy), '#ee2a2a', 9, { borderDash: [90, 14], tension: 0.3, order: 13 }),
        lineDs(SSZ_LEADER.map(xy), '#1ba3dd', 3.5, { order: 12 }),
        lineDs(MOR_LEADER.map(xy), '#16964a', 3.5, { order: 12 }),
        lineDs(PMC_LEADER.map(xy), '#ee2a2a', 4, { order: 12 }),
        pointDs(LZ_HB_766.map(xy), 'triangle', 24, '#19e619', '#0b5d0b', 2, 2),
        pointDs(LZ_HB_AZ.map(xy), 'triangle', 24, '#ffff00', '#505000', 2, 2),
        pointDs(HB.map(xy), 'rectRot', 21, '#0b0bd8', '#00004d', 2, 1),
        pointDs(D.map(xy), 'rect', 28, '#ff00ff', '#6a004a', 2, 1),
      ],
    },
    options: {
      ...baseOptions,
      layout: { padding: { left: 0, right: 413, top: 146, bottom: 0 } },
      scales: {
        x: {
          type: 'linear', reverse: true, min: 0.857, max: 1,
          grid: { display: false, drawTicks: false }, border: { display: false },
          afterBuildTicks: (s: any) => { s.ticks = B_X_TICKS.map((v) => ({ value: v })); },
          afterFit: (s: any) => { s.height = 173; },
          ticks: {
            font: { family: FONT, size: 72 }, color: '#111', padding: 32, labelOffset: 15,
            autoSkip: false, maxRotation: 0, callback: (v: any) => String(v),
          },
        },
        y: {
          type: 'linear', min: 0, max: 1,
          grid: { display: false, drawTicks: false }, border: { display: false },
          afterBuildTicks: (s: any) => { s.ticks = B_Y_TICKS.map((v) => ({ value: v })); },
          afterFit: (s: any) => { s.width = 278; },
          ticks: {
            font: { family: FONT, size: 70 }, color: '#111', padding: 26,
            autoSkip: false, callback: (v: any) => String(v),
          },
        },
      },
    },
    plugins: [panelBDecor],
  };
}

function Panel({ left, top, width, height, build }: any) {
  const ref = useRef<HTMLCanvasElement>(null);
  useEffect(() => {
    const chart = new Chart(ref.current as HTMLCanvasElement, build() as any);
    return () => chart.destroy();
  }, [build]);
  return (
    <canvas
      ref={ref}
      width={width}
      height={height}
      style={{ position: 'absolute', left, top, width, height, display: 'block' }}
    />
  );
}

export default function App() {
  return (
    <div style={{ position: 'absolute', left: 0, top: 0, width: 3765, height: 2438, background: '#fff', overflow: 'hidden' }}>
      <Panel left={0} top={0} width={1800} height={1350} build={buildA} />
      <Panel left={0} top={1300} width={1900} height={1138} build={buildC} />
      <Panel left={1700} top={0} width={2065} height={2438} build={buildB} />
    </div>
  );
}
